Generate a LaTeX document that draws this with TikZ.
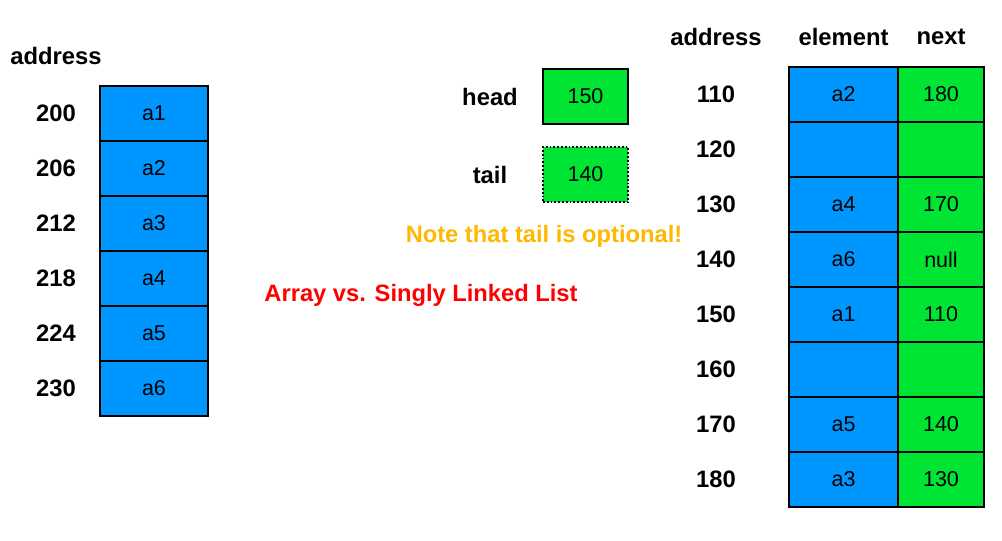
\documentclass[tikz,border=0pt]{standalone}
\usepackage{fontspec}
\setmainfont{Liberation Sans}
\usepackage{xcolor}
\usepackage{tikz}
\usetikzlibrary{positioning}

\definecolor{cellblue}{RGB}{0,150,255}
\definecolor{cellgreen}{RGB}{0,229,52}
\definecolor{noteorange}{RGB}{255,184,0}

\begin{document}
\begin{tikzpicture}[
        x=1pt, y=-1pt,
        node distance=0pt,
        cell/.style={
            draw,
            line width=2pt,
            outer sep=0pt,
            minimum height=55pt,
            font=\fontsize{21.5}{25}\selectfont
        },
        blue cell/.style={cell, fill=cellblue, minimum width=108pt},
        elem cell/.style={cell, fill=cellblue, minimum width=109pt},
        next cell/.style={cell, fill=cellgreen, minimum width=86pt},
        label/.style={font=\fontsize{23.8}{28}\selectfont\bfseries},
        note/.style={font=\fontsize{23.7}{28}\selectfont\bfseries}
    ]
        \useasboundingbox (0,0) rectangle (1002,541);

        % array
        \node[label] (addrleft) at (56,56) {address};
        \node[blue cell] (a1) at (154,113.5) {a1};
        \node[blue cell, below=of a1] (a2) {a2};
        \node[blue cell, below=of a2] (a3) {a3};
        \node[blue cell, below=of a3] (a4) {a4};
        \node[blue cell, below=of a4] (a5) {a5};
        \node[blue cell, below=of a5] (a6) {a6};
        \node[label] (l200) at (addrleft |- a1) {200};
        \node[label] (l206) at (addrleft |- a2) {206};
        \node[label] (l212) at (addrleft |- a3) {212};
        \node[label] (l218) at (addrleft |- a4) {218};
        \node[label] (l224) at (addrleft |- a5) {224};
        \node[label] (l230) at (addrleft |- a6) {230};

        % head and tail
        \node[next cell, minimum width=85pt] (headbox) at (585.5,96.5) {150};
        \node[next cell, minimum width=85pt, line width=1.8pt, dotted] (tailbox) at (585.5,174.5) {140};
        \node[label] (headlbl) at (490,97) {head};
        \node[label] (taillbl) at (headlbl |- tailbox) {tail};
        \node[note, text=noteorange] (optional) at (544,236) {Note that tail is optional!};
        \node[note, text=red] (title) at (421,295) {Array vs. Singly Linked List};

        % linked list in memory
        \node[label] (addrright) at (716,37) {address};
        \node[label] (elemhdr) at (843.5,37) {element};
        \node[label] (nexthdr) at (941,37) {next};
        \node[elem cell] (e110) at (843.5,94.5) {a2};
        \node[elem cell, below=of e110] (e120) {};
        \node[elem cell, below=of e120] (e130) {a4};
        \node[elem cell, below=of e130] (e140) {a6};
        \node[elem cell, below=of e140] (e150) {a1};
        \node[elem cell, below=of e150] (e160) {};
        \node[elem cell, below=of e160] (e170) {a5};
        \node[elem cell, below=of e170] (e180) {a3};
        \node[next cell, right=of e110] (n110) {180};
        \node[next cell, right=of e120] (n120) {};
        \node[next cell, right=of e130] (n130) {170};
        \node[next cell, right=of e140] (n140) {null};
        \node[next cell, right=of e150] (n150) {110};
        \node[next cell, right=of e160] (n160) {};
        \node[next cell, right=of e170] (n170) {140};
        \node[next cell, right=of e180] (n180) {130};
        \node[label] (r110) at (addrright |- e110) {110};
        \node[label] (r120) at (addrright |- e120) {120};
        \node[label] (r130) at (addrright |- e130) {130};
        \node[label] (r140) at (addrright |- e140) {140};
        \node[label] (r150) at (addrright |- e150) {150};
        \node[label] (r160) at (addrright |- e160) {160};
        \node[label] (r170) at (addrright |- e170) {170};
        \node[label] (r180) at (addrright |- e180) {180};
    \end{tikzpicture}
\end{document}
